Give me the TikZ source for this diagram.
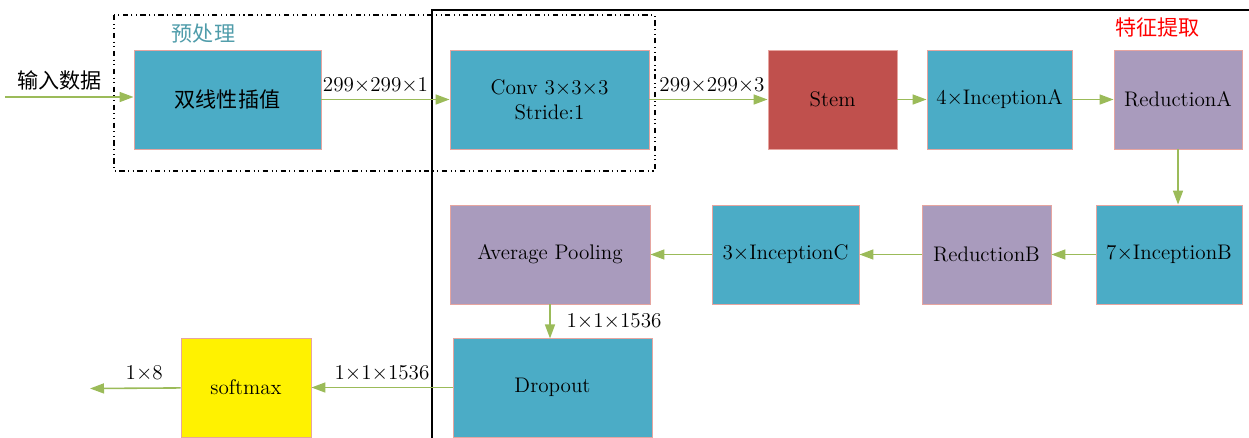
\documentclass[tikz,border=0pt]{standalone}
\usepackage{fontspec}
\newfontfamily\cjk{Noto Sans CJK SC}
\usetikzlibrary{arrows.meta}
\definecolor{boxblue}{RGB}{75,172,198}
\definecolor{boxred}{RGB}{192,80,77}
\definecolor{boxpurple}{RGB}{169,155,189}
\definecolor{flowgreen}{RGB}{155,187,89}
\definecolor{edgepink}{RGB}{230,165,160}
\definecolor{titleteal}{RGB}{79,156,170}
\begin{document}
\begin{tikzpicture}
	\tikzstyle{every node}=[font=\large]
	\tikzstyle{block}=[draw=edgepink,line width=0.5pt,rectangle,inner sep=0pt,minimum height=1.98cm]
	\tikzstyle{flow}=[draw=flowgreen,line width=0.9pt,-{Triangle[length=0.28cm,width=0.2cm]}]
	\useasboundingbox (0,0) rectangle (24.98,-8.74);
	% frames
	\draw[line width=0.6pt,dash dot dot] (2.28,-0.30) rectangle (13.10,-3.42);
	\draw[line width=0.6pt] (8.64,-8.9) -- (8.64,-0.20) -- (25.2,-0.20);
	\node[text=titleteal] (pre) at (4.07,-0.68) {\cjk 预处理};
	\node[text=red] (feat) at (23.15,-0.54) {\cjk 特征提取};
	% first row
	\node[block,fill=boxblue,minimum width=3.74cm] (interp) at (4.55,-1.99) {\cjk 双线性插值};
	\node[block,fill=boxblue,minimum width=3.98cm,align=center] (conv) at (10.99,-1.99) {Conv 3$\times$3$\times$3\\Stride:1};
	\node[block,fill=boxred,minimum width=2.58cm] (stem) at (16.65,-1.99) {Stem};
	\node[block,fill=boxblue,minimum width=2.90cm] (incA) at (19.99,-1.99) {4$\times$InceptionA};
	\node[block,fill=boxpurple,minimum width=2.56cm] (redA) at (23.56,-1.99) {ReductionA};
	% second row
	\node[block,fill=boxblue,minimum width=2.92cm] (incB) at (23.38,-5.09) {7$\times$InceptionB};
	\node[block,fill=boxpurple,minimum width=2.58cm] (redB) at (19.73,-5.09) {ReductionB};
	\node[block,fill=boxblue,minimum width=2.94cm] (incC) at (15.71,-5.09) {3$\times$InceptionC};
	\node[block,fill=boxpurple,minimum width=4.00cm] (avgpool) at (11.00,-5.09) {Average Pooling};
	% third row
	\node[block,fill=boxblue,minimum width=3.98cm] (dropout) at (11.05,-7.75) {Dropout};
	\node[block,fill=yellow,minimum width=2.60cm] (softmax) at (4.92,-7.75) {softmax};
	\coordinate (in) at (0.1,-1.94);
	\coordinate (out) at (1.80,-7.77);
	% connectors
	\draw[flow] (in) -- node[above,xshift=-0.19cm]{\cjk 输入数据} (in -| interp.west);
	\draw[flow] (interp) -- node[above,xshift=-0.2cm]{299$\times$299$\times$1} (conv);
	\draw[flow] (conv) -- node[above,xshift=0.07cm]{299$\times$299$\times$3} (stem);
	\draw[flow] (stem) -- (incA);
	\draw[flow] (incA) -- (redA);
	\draw[flow] (redA) -- (redA.south |- incB.north);
	\draw[flow] (incB) -- (redB);
	\draw[flow] (redB) -- (incC);
	\draw[flow] (incC) -- (avgpool);
	\draw[flow] (avgpool.south -| dropout.north) ++(-0.05,0) -- node[right=2mm]{1$\times$1$\times$1536} ++(0,-0.68);
	\draw[flow] (dropout) -- node[above]{1$\times$1$\times$1536} (softmax);
	\draw[flow] (softmax) -- node[above,xshift=0.18cm]{1$\times$8} (out);
\end{tikzpicture}
\end{document}
